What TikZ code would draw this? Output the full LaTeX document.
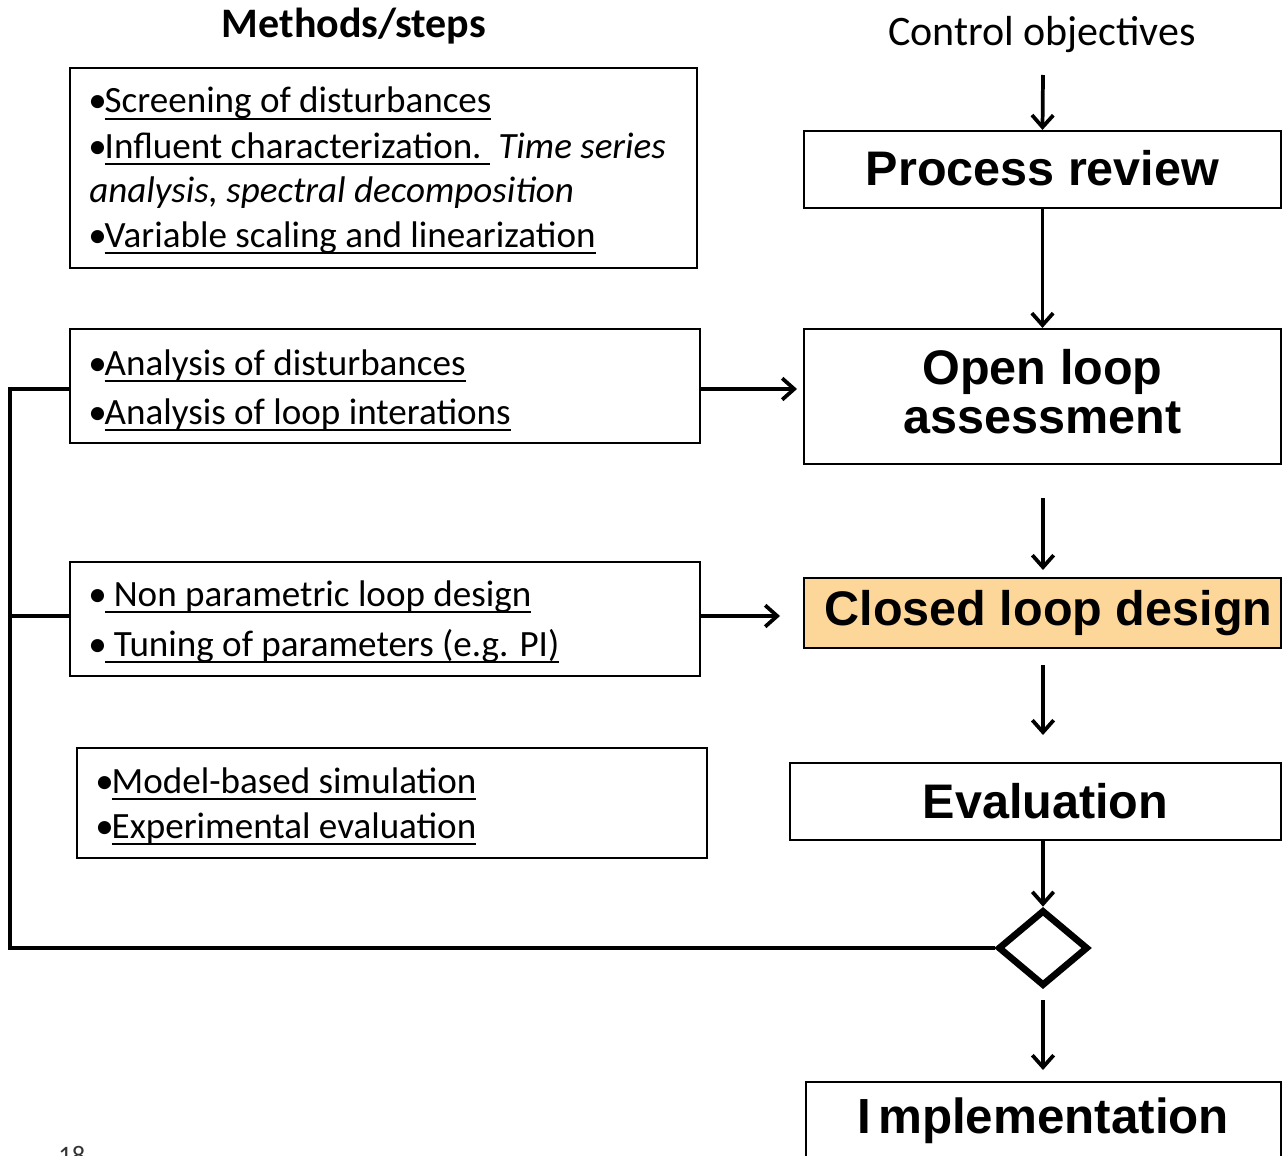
\documentclass[tikz,border=0pt]{standalone}
\usepackage{fontspec}
\setmainfont{Carlito}
\newfontfamily\arialfont{Liberation Sans}
\newcommand{\myul}[1]{\setbox0\hbox{#1}\rlap{\rule[-5.5pt]{\wd0}{1.5pt}}\box0}
\newcommand{\bul}{•\kern-1.5pt}
\usetikzlibrary{arrows.meta,shapes.geometric}
\definecolor{clfill}{RGB}{253,214,153}
\begin{document}
\begin{tikzpicture}[x=0.75pt,y=-0.75pt,
  lbox/.style={draw,line width=1.6pt,inner sep=0,rectangle},
  rbox/.style={draw,line width=1.6pt,inner sep=0,rectangle,align=center,
    font=\arialfont\bfseries\fontsize{36.4pt}{36.75pt}\selectfont},
  rtext/.style={inner sep=0,align=center,
    font=\arialfont\bfseries\fontsize{36.4pt}{36.75pt}\selectfont},
  item/.style={anchor=base west,inner sep=0,font=\fontsize{27.8pt}{33pt}\selectfont},
  conn/.style={line width=2.8pt,-{Straight Barb[length=9pt,width=16pt]}},
  fb/.style={line width=2.8pt}]
\useasboundingbox (0,0) rectangle (1282,1156);

% titles
\node[anchor=base,inner sep=0,font=\bfseries\fontsize{31.5pt}{33pt}\selectfont] (mtitle) at (354,38) {Methods/steps};
\node[anchor=base,inner sep=0,font=\fontsize{31.5pt}{33pt}\selectfont] (ctitle) at (1042,46) {Control objectives};

% left boxes
\node[lbox,minimum width=470.25pt,minimum height=150pt] (b1) at (383.5,168) {};
\node[item] (b1a) at (88,113) {\bul\myul{Screening of disturbances}};
\node[item] (b1b) at (88,158) {\bul\myul{Influent characterization.\ }\ \textit{Time series}};
\node[item] (b1c) at (89,202) {\textit{analysis, spectral decomposition}};
\node[item] (b1d) at (88,247) {\bul\myul{Variable scaling and linearization}};

\node[lbox,minimum width=472.5pt,minimum height=85.5pt] (b2) at (385,386) {};
\node[item] (b2a) at (88,375) {\bul\myul{Analysis of disturbances}};
\node[item] (b2b) at (88,424) {\bul\myul{Analysis of loop interations}};

\node[lbox,minimum width=472.5pt,minimum height=85.5pt] (b3) at (385,619) {};
\node[item] (b3a) at (88,606) {•\kern-1pt\myul{\ Non parametric loop design}};
\node[item] (b3b) at (88,656) {•\kern-1pt\myul{\ Tuning of parameters (e.g. PI)}};

\node[lbox,minimum width=472.5pt,minimum height=82.5pt] (b4) at (392,803) {};
\node[item] (b4a) at (95,793) {\bul\myul{Model-based simulation}};
\node[item] (b4b) at (95,838) {\bul\myul{Experimental evaluation}};

% right boxes
\node[rbox,minimum width=357.75pt,minimum height=57.75pt] (pr) at (1042.5,169.5) {\raisebox{2pt}{Process review}};
\node[rbox,minimum width=357.75pt,minimum height=101.25pt] (ol) at (1042.5,396.5) {};
\node[rtext] (olt) at (1042.5,391.5) {Open loop\\assessment};
\node[rbox,fill=clfill,minimum width=357.75pt,minimum height=52.5pt] (cl) at (1042.5,613) {\hspace{9pt}Closed loop design};
\node[rbox,minimum width=368.25pt,minimum height=57.75pt] (ev) at (1035.5,801.5) {\hspace{15pt}Evaluation};
\node[rbox,minimum width=356.25pt,minimum height=58.5pt,font=\arialfont\bfseries\fontsize{37pt}{38pt}\selectfont] (im) at (1043.5,1121) {\raisebox{1.5pt}{I\hspace{5pt}mplementation}};
\node[diamond,draw,line width=5pt,inner sep=0,minimum width=67.5pt,minimum height=57pt] (dia) at (1043,948) {};

% free ends
\coordinate (c0) at (1043,75);
\coordinate (c1a) at (1043,498);
\coordinate (c1b) at (1043,570);
\coordinate (c2a) at (1043,665);
\coordinate (c2b) at (1043,735);
\coordinate (c3a) at (1043,1000);
\coordinate (c3b) at (1043,1070);
\coordinate (olin) at (797,389);
\coordinate (clin) at (780,616);
\coordinate (fbl) at (10,948);
\coordinate (fbt) at (10,389);
\coordinate (fbm) at (10,616);

% connectors
\draw[conn] (c0) -- (pr.north);
\draw[conn] (pr.south) -- (ol.north);
\draw[conn] (c1a) -- (c1b);
\draw[conn] (c2a) -- (c2b);
\draw[conn] (ev.south -| dia.north) -- (dia.north);
\draw[conn] (c3a) -- (c3b);
\draw[conn] (b2.east |- olin) -- (olin);
\draw[conn] (b3.east |- clin) -- (clin);
\draw[fb] (dia.west) -- (fbl) -- (fbt) -- (b2.west |- fbt);
\draw[fb] (fbm) -- (b3.west |- fbm);

% page number
\node[anchor=base west,inner sep=0,text=black!80,font=\fontsize{20pt}{22pt}\selectfont] (pnum) at (58,1164) {18};
\end{tikzpicture}
\end{document}
